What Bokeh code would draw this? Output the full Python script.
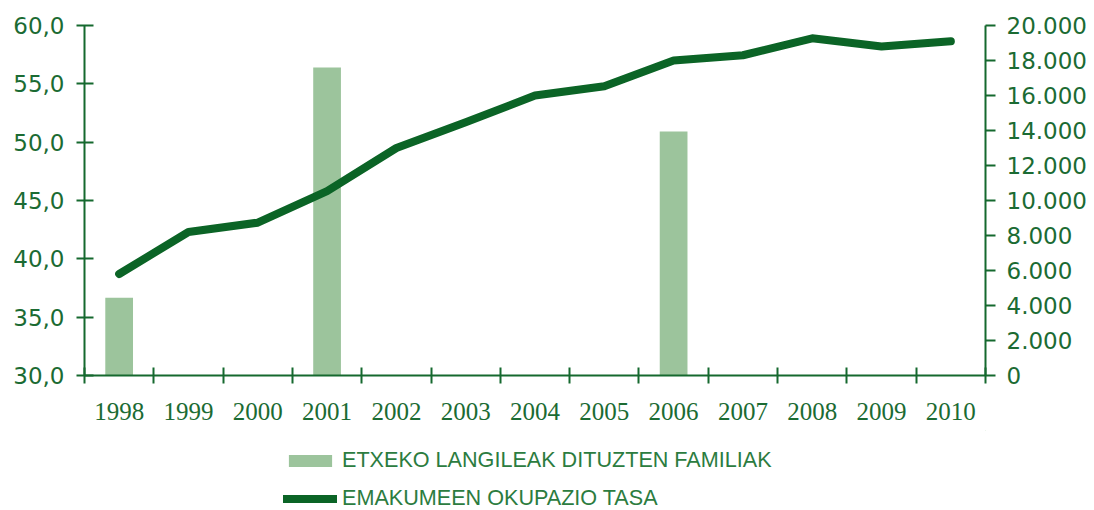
from bokeh.plotting import figure
from bokeh.layouts import column
from bokeh.models import Range1d, LinearAxis, FixedTicker, Legend, LegendItem
from bokeh.embed import file_html
from bokeh.resources import INLINE

years = ["1998", "1999", "2000", "2001", "2002", "2003", "2004",
         "2005", "2006", "2007", "2008", "2009", "2010"]
occupation_rate = [38.7, 42.3, 43.1, 45.8, 49.5, 51.7, 54.0,
                   54.8, 57.0, 57.45, 58.9, 58.2, 58.65]
bar_years = ["1998", "2001", "2006"]
families = [4450, 17600, 13950]
left_ticks = [30, 35, 40, 45, 50, 55, 60]
right_ticks = [0, 2000, 4000, 6000, 8000, 10000, 12000, 14000, 16000, 18000, 20000]
bar_label = "ETXEKO LANGILEAK DITUZTEN FAMILIAK"
line_label = "EMAKUMEEN OKUPAZIO TASA"

AXIS = "#15692e"
LABEL = "#1b6b33"
LINE = "#0b6426"
BAR = "#9cc49c"

x_line = [i + 0.5 for i in range(len(years))]
x_bar = [years.index(y) + 0.5 for y in bar_years]

p = figure(width=1090, height=430, output_backend="svg", toolbar_location=None,
           x_range=Range1d(0, len(years)), y_range=Range1d(left_ticks[0], left_ticks[-1]),
           min_border_left=84, min_border_right=105, min_border_top=25, min_border_bottom=55,
           tools="")
p.outline_line_color = None
p.grid.visible = False
p.background_fill_color = "white"
p.border_fill_color = "white"
p.extra_y_ranges = {"fam": Range1d(right_ticks[0], right_ticks[-1])}

bar_style = dict(fill_color=BAR, line_color=None)
line_style = dict(line_color=LINE, line_width=8, line_cap="round", line_join="round")

p.vbar(x=x_bar, top=families, bottom=0, width=0.4, y_range_name="fam", **bar_style)
p.line(x=x_line, y=occupation_rate, **line_style)

def style(ax, size, font):
    ax.axis_line_color = AXIS
    ax.axis_line_width = 2
    ax.major_tick_line_color = AXIS
    ax.major_tick_line_width = 2
    ax.minor_tick_line_color = None
    ax.major_label_text_color = LABEL
    ax.major_label_text_font = font
    ax.major_label_text_font_size = size

# x axis
xa = p.xaxis[0]
xa.ticker = FixedTicker(ticks=x_line, minor_ticks=list(range(len(years) + 1)))
xa.major_label_overrides = {x: y for x, y in zip(x_line, years)}
style(xa, "25px", "Liberation Serif")
xa.major_tick_in = 0
xa.major_tick_out = 0
xa.minor_tick_line_color = AXIS
xa.minor_tick_line_width = 2
xa.minor_tick_in = 8
xa.minor_tick_out = 8
xa.major_label_standoff = 19

# left axis
ya = p.yaxis[0]
ya.ticker = FixedTicker(ticks=left_ticks)
ya.major_label_overrides = {t: f"{t:.1f}".replace(".", ",") for t in left_ticks}
style(ya, "23px", "DejaVu Sans")
ya.major_tick_in = 9
ya.major_tick_out = 8
ya.major_label_standoff = 12

# right axis
ra = LinearAxis(y_range_name="fam", ticker=FixedTicker(ticks=right_ticks))
ra.major_label_overrides = {t: f"{t:,}".replace(",", ".") for t in right_ticks}
style(ra, "23px", "DejaVu Sans")
ra.major_tick_in = 0
ra.major_tick_out = 10
ra.major_label_standoff = 11
p.add_layout(ra, "right")

# legend panel under the chart; its glyphs lie outside its (empty) view
lg = figure(width=1090, height=80, output_backend="svg", toolbar_location=None,
            x_range=Range1d(-3, -2), y_range=Range1d(-3, -2), tools="",
            x_axis_type=None, y_axis_type=None, min_border=0)
lg.outline_line_color = None
lg.grid.visible = False
lg.background_fill_color = "white"
lg.border_fill_color = "white"
lg_bar = lg.vbar(x=x_bar, top=families, bottom=0, width=0.4, **bar_style)
lg_line = lg.line(x=x_line, y=occupation_rate, **line_style)
legend = Legend(items=[LegendItem(label=bar_label, renderers=[lg_bar]),
                       LegendItem(label=line_label, renderers=[lg_line])],
                location=(199, -1))
legend.padding = 0
legend.margin = 0
legend.spacing = 12
legend.border_line_alpha = 0
legend.background_fill_alpha = 0
legend.glyph_width = 54
legend.glyph_height = 15
legend.label_standoff = 5
legend.label_text_font = "Liberation Sans"
legend.label_text_font_size = "21.6px"
legend.label_text_color = "#2c7c40"
lg.add_layout(legend)

layout = column(p, lg, spacing=0)
open("out.html", "w").write(file_html(layout, INLINE))
